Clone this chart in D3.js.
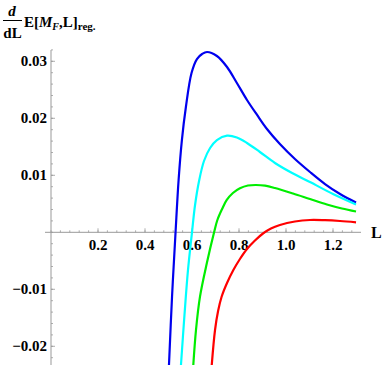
<!DOCTYPE html>
<html><head><meta charset="utf-8">
<script src="https://cdn.jsdelivr.net/npm/d3@7"></script>
<style>html,body{margin:0;padding:0;background:#fff;}svg{display:block;}</style>
</head><body>
<svg id="c" width="382" height="365"></svg>
<script>
// ---- data ----
const blueL  = [0.502, 0.515, 0.530, 0.543, 0.557, 0.574, 0.598, 0.621, 0.643, 0.664, 0.706, 0.749, 0.791, 0.834, 0.877, 0.919, 0.974, 1.038, 1.102, 1.166, 1.230, 1.298];
const blueV  = [-0.0233, -0.01135, 0, 0.00918, 0.01619, 0.02198, 0.02795, 0.0304, 0.03128, 0.03163, 0.03093, 0.02900, 0.02619, 0.02321, 0.02058, 0.01812, 0.01549, 0.01286, 0.01058, 0.00847, 0.00672, 0.00523];
const cyanL  = [0.553, 0.568, 0.583, 0.600, 0.613, 0.630, 0.651, 0.677, 0.706, 0.749, 0.791, 0.834, 0.889, 0.953, 1.026, 1.102, 1.200, 1.298];
const cyanV  = [-0.0233, -0.0145, -0.0066, 0, 0.00479, 0.00900, 0.01251, 0.01479, 0.01619, 0.01695, 0.01663, 0.01567, 0.01409, 0.01216, 0.01040, 0.00882, 0.00672, 0.00488];
const greenL = [0.6055, 0.617, 0.634, 0.663, 0.694, 0.708, 0.728, 0.748, 0.774, 0.804, 0.838, 0.872, 0.911, 0.953, 1.030, 1.102, 1.174, 1.238, 1.298];
const greenV = [-0.0233, -0.01714, -0.01129, -0.00544, 0, 0.00216, 0.00409, 0.00567, 0.00689, 0.00772, 0.00821, 0.0083, 0.00818, 0.00777, 0.00681, 0.00584, 0.00488, 0.00418, 0.00365];
const redL   = [0.684, 0.698, 0.711, 0.726, 0.749, 0.776, 0.804, 0.834, 0.868, 0.902, 0.936, 0.974, 1.038, 1.102, 1.166, 1.230, 1.298];
const redV   = [-0.0233, -0.01714, -0.01381, -0.0113, -0.00889, -0.00661, -0.00468, -0.00293, -0.00144, -0.00021, 0.00067, 0.00128, 0.00189, 0.00216, 0.00212, 0.00198, 0.00175];

const xTicks = [0.2, 0.4, 0.6, 0.8, 1.0, 1.2];
const xTickLabels = ["0.2", "0.4", "0.6", "0.8", "1.0", "1.2"];
const yTicks = [-0.02, -0.01, 0.01, 0.02, 0.03];
const yTickLabels = ["\u22120.02", "\u22120.01", "0.01", "0.02", "0.03"];

const series = [
  {L: blueL, V: blueV, color: "#0000ee"},
  {L: cyanL, V: cyanV, color: "#00ffff"},
  {L: greenL, V: greenV, color: "#00ee00"},
  {L: redL, V: redV, color: "#ff0000"}
];

// ---- layout ----
const svg = d3.select("#c");
const x = d3.scaleLinear().domain([0, 1.3]).range([51, 356.5]);
const y = d3.scaleLinear().domain([0, 0.03]).range([232.3, 61.3]);
const FONT = "'Liberation Serif','Times New Roman',serif";
const axisColor = "#999";

svg.append("defs").append("clipPath").attr("id", "clip")
  .append("rect").attr("x", 0).attr("y", 45).attr("width", 382).attr("height", 320);

// axes lines
const x0 = x(0), y0 = y(0);
svg.append("line").attr("x1", 45).attr("x2", 361).attr("y1", y0).attr("y2", y0)
  .attr("stroke", axisColor).attr("stroke-width", 1);
svg.append("line").attr("x1", x0).attr("x2", x0).attr("y1", 50).attr("y2", 365)
  .attr("stroke", axisColor).attr("stroke-width", 1);

// x ticks (major + minor)
const xMinor = d3.range(0, 1.3 + 1e-9, 0.04);
svg.selectAll(".xmin").data(xMinor).enter().append("line")
  .attr("x1", d => x(d)).attr("x2", d => x(d))
  .attr("y1", y0).attr("y2", y0 - 2)
  .attr("stroke", axisColor).attr("stroke-width", 0.8);
svg.selectAll(".xmaj").data(xTicks).enter().append("line")
  .attr("x1", d => x(d)).attr("x2", d => x(d))
  .attr("y1", y0).attr("y2", y0 - 4)
  .attr("stroke", axisColor).attr("stroke-width", 0.8);
svg.selectAll(".xlab").data(xTicks).enter().append("text")
  .attr("x", d => x(d)).attr("y", y0 + 17.5)
  .attr("text-anchor", "middle")
  .attr("font-family", FONT).attr("font-weight", "bold").attr("font-size", 15)
  .text((d, i) => xTickLabels[i]);

// y ticks
const yMinor = d3.range(-0.024, 0.0321, 0.002);
svg.selectAll(".ymin").data(yMinor).enter().append("line")
  .attr("x1", x0).attr("x2", x0 + 2)
  .attr("y1", d => y(d)).attr("y2", d => y(d))
  .attr("stroke", axisColor).attr("stroke-width", 0.8);
svg.selectAll(".ymaj").data(yTicks).enter().append("line")
  .attr("x1", x0).attr("x2", x0 + 4)
  .attr("y1", d => y(d)).attr("y2", d => y(d))
  .attr("stroke", axisColor).attr("stroke-width", 0.8);
svg.selectAll(".ylab").data(yTicks).enter().append("text")
  .attr("x", 47).attr("y", d => y(d) + 5)
  .attr("text-anchor", "end")
  .attr("font-family", FONT).attr("font-weight", "bold").attr("font-size", 15)
  .text((d, i) => yTickLabels[i]);

// curves
const line = d3.line().curve(d3.curveCatmullRom.alpha(0.5));
const g = svg.append("g").attr("clip-path", "url(#clip)");
series.forEach(s => {
  const pts = s.L.map((l, i) => [x(l), y(s.V[i])]);
  g.append("path").attr("d", line(pts))
    .attr("fill", "none").attr("stroke", s.color).attr("stroke-width", 2.2)
    .attr("stroke-linejoin", "round");
});

// axis label L
svg.append("text").attr("x", 371).attr("y", y0 + 5.5)
  .attr("font-family", FONT).attr("font-weight", "bold").attr("font-size", 16).text("L");

// y label: d/dL E[M_F,L]_reg.
const t = svg.append("g").attr("font-family", FONT).attr("font-weight", "bold");
t.append("text").attr("x", 12).attr("y", 15.5).attr("text-anchor", "middle")
  .attr("font-size", 15).attr("font-style", "italic").text("d");
t.append("line").attr("x1", 3).attr("x2", 22).attr("y1", 20.5).attr("y2", 20.5)
  .attr("stroke", "#000").attr("stroke-width", 1);
t.append("text").attr("x", 12.5).attr("y", 37.5).attr("text-anchor", "middle")
  .attr("font-size", 15).text("dL");
const e = t.append("text").attr("x", 24).attr("y", 26.7).attr("font-size", 15);
e.append("tspan").text("E[");
e.append("tspan").attr("font-style", "italic").text("M");
e.append("tspan").attr("font-style", "italic").attr("font-size", 10).attr("dy", 3).text("F");
e.append("tspan").attr("dy", -3).text(",L]");
e.append("tspan").attr("font-size", 11).attr("dy", 3.5).text("reg.");
</script>
</body></html>
